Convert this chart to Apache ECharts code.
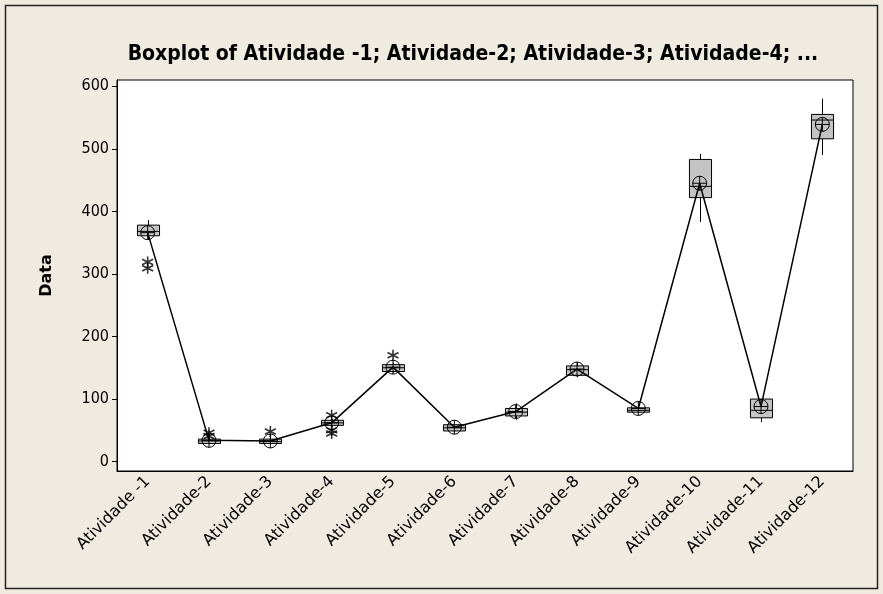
<!DOCTYPE html>
<html>
<head>
<meta charset="utf-8">
<script src="https://cdn.jsdelivr.net/npm/echarts@6/dist/echarts.min.js"></script>
<style>
  html, body { margin: 0; padding: 0; background: #efebe1; }
  #box-chart { width: 883px; height: 594px; }
</style>
</head>
<body>
<div id="box-chart"></div>
<script>
// categories and per-activity summaries
const categories = [
  "Atividade -1", "Atividade-2", "Atividade-3", "Atividade-4",
  "Atividade-5", "Atividade-6", "Atividade-7", "Atividade-8",
  "Atividade-9", "Atividade-10", "Atividade-11", "Atividade-12",
];
const whiskerLow = [355, 28, 28, 55, 142, 47, 67, 135, 78, 383, 63, 490];
const q1 = [361, 29, 29, 58, 144, 49, 73, 138, 79, 422, 70, 516];
const median = [368, 33, 32, 62, 150, 54, 79, 147, 82, 440, 82, 546];
const q3 = [378, 36, 36, 66, 155, 59, 85, 153, 86, 483, 100, 555];
const whiskerHigh = [386, 40, 40, 68, 158, 61, 93, 158, 88, 492, 100, 580];
const means = [366, 34, 33, 62, 151, 55, 80, 148, 85, 445, 88, 539];
// outliers: [category index, value]
const outliers = [
  [0, 319], [0, 309], [1, 46], [1, 41], [2, 48],
  [3, 74], [3, 50], [3, 45], [4, 170],
];
const yTicks = [0, 100, 200, 300, 400, 500, 600];

const boxData = categories.map((c, i) => [
  i, whiskerLow[i], q1[i], median[i], q3[i], whiskerHigh[i],
]);

const meanSymbol =
  "path://M0,-10A10,10,0,1,1,0,10A10,10,0,1,1,0,-10ZM-10,0L10,0M0,-10L0,10";
const starSymbol =
  "path://M0,-6L0,6M-5.2,-3L5.2,3M-5.2,3L5.2,-3";

function renderBox(params, api) {
  const idx = api.value(0);
  const w = api.size([1, 0])[0] * 0.36;
  const lo = api.coord([idx, api.value(1)]);
  const b1 = api.coord([idx, api.value(2)]);
  const md = api.coord([idx, api.value(3)]);
  const b3 = api.coord([idx, api.value(4)]);
  const hi = api.coord([idx, api.value(5)]);
  const x = Math.round(lo[0]) + 0.5;
  const line = { stroke: "#000", lineWidth: 1 };
  return {
    type: "group",
    children: [
      { type: "line", shape: { x1: x, y1: lo[1], x2: x, y2: b1[1] }, style: line },
      { type: "line", shape: { x1: x, y1: b3[1], x2: x, y2: hi[1] }, style: line },
      {
        type: "rect",
        shape: { x: x - w / 2, y: b3[1], width: w, height: b1[1] - b3[1] },
        style: { fill: "#c4c4c4", stroke: "#000", lineWidth: 1 },
      },
      { type: "line", shape: { x1: x - w / 2, y1: md[1], x2: x + w / 2, y2: md[1] }, style: line },
    ],
  };
}

const myChart = echarts.init(document.getElementById("box-chart"));

const option = {
  backgroundColor: "#efebe1",
  animation: false,
  title: {
    text: "Boxplot of Atividade -1; Atividade-2; Atividade-3; Atividade-4; ...",
    left: 468,
    top: 39,
    textAlign: "center",
    textStyle: {
      fontFamily: "DejaVu Sans Condensed, DejaVu Sans",
      fontWeight: "bold",
      fontSize: 21,
      color: "#000",
    },
  },
  graphic: [
    {
      type: "rect",
      shape: { x: 5.5, y: 5.5, width: 872, height: 583 },
      style: { fill: "none", stroke: "#222", lineWidth: 1.5 },
      silent: true,
    },
  ],
  grid: {
    left: 117,
    right: 30,
    top: 80,
    bottom: 123,
    show: true,
    backgroundColor: "#fff",
    borderColor: "#000",
    borderWidth: 1,
  },
  xAxis: {
    type: "category",
    data: categories,
    boundaryGap: true,
    axisLine: { onZero: false, lineStyle: { color: "#000" } },
    axisTick: { alignWithLabel: true, length: 5, lineStyle: { color: "#000" } },
    axisLabel: {
      rotate: 45,
      interval: 0,
      margin: 8,
      fontFamily: "DejaVu Sans",
      fontSize: 16,
      color: "#000",
    },
  },
  yAxis: {
    type: "value",
    min: -15,
    max: 610,
    name: "Data",
    nameLocation: "middle",
    nameGap: 62,
    nameTextStyle: {
      fontFamily: "DejaVu Sans",
      fontWeight: "bold",
      fontSize: 16,
      color: "#000",
    },
    splitLine: { show: false },
    axisLine: { show: true, lineStyle: { color: "#000" } },
    axisTick: { show: true, length: 5, customValues: yTicks, lineStyle: { color: "#000" } },
    axisLabel: {
      customValues: yTicks,
      margin: 8,
      fontFamily: "DejaVu Sans Condensed, DejaVu Sans",
      fontSize: 16,
      color: "#000",
    },
  },
  series: [
    {
      type: "custom",
      name: "box",
      renderItem: renderBox,
      data: boxData,
      encode: { x: 0, y: [1, 2, 3, 4, 5] },
      z: 2,
    },
    {
      type: "line",
      name: "mean",
      data: means,
      symbol: meanSymbol,
      symbolSize: 14,
      lineStyle: { color: "#000", width: 1.5 },
      itemStyle: { color: "rgba(0,0,0,0)", borderColor: "#000", borderWidth: 1 },
      z: 3,
    },
    {
      type: "scatter",
      name: "outlier",
      data: outliers,
      symbol: starSymbol,
      symbolSize: 11,
      itemStyle: { color: "rgba(0,0,0,0)", borderColor: "#000", borderWidth: 1.6 },
      z: 4,
    },
  ],
};

myChart.setOption(option);
</script>
</body>
</html>
